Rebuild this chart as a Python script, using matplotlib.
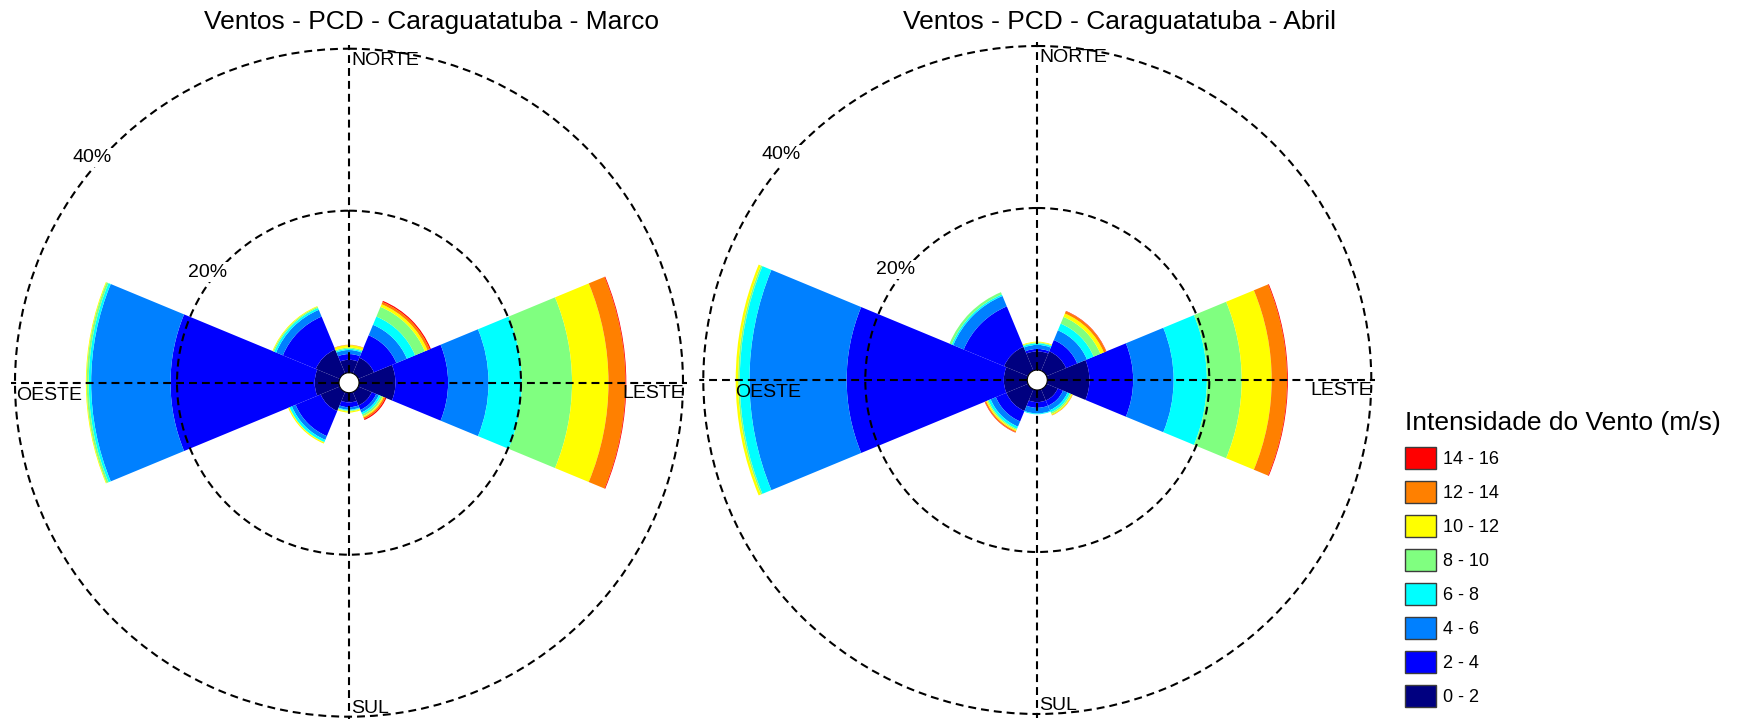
import numpy as np
import matplotlib.pyplot as plt
import matplotlib.patches as mpatches

plt.rcParams['font.family'] = ['Liberation Sans', 'DejaVu Sans']

## directions (compass degrees) and speed classes
dir_angles = [0, 45, 90, 135, 180, 225, 270, 315]  # N, NE, E, SE, S, SW, W, NW
speed_labels = ['0 - 2', '2 - 4', '4 - 6', '6 - 8', '8 - 10', '10 - 12', '12 - 14', '14 - 16']
speed_colors = ['#000080', '#0000FF', '#0080FF', '#00FFFF', '#80FF80', '#FFFF00', '#FF8000', '#FF0000']

## frequency (%) per direction, one list per speed class - Marco
marco_0_2 = [1.6, 2.1, 4.5, 1.8, 1.2, 2.55, 3.0, 3.2]
marco_2_4 = [0.7, 3.0, 6.5, 0.6, 0.6, 3.35, 17.8, 4.4]
marco_4_6 = [0.5, 1.4, 5.0, 0.35, 0.3, 0.5, 9.8, 0.9]
marco_6_8 = [0.15, 1.1, 4.1, 0.25, 0.1, 0.3, 0.3, 0.25]
marco_8_10 = [0.15, 1.3, 6.2, 0.25, 0.1, 0.05, 0.25, 0.15]
marco_10_12 = [0.3, 0.35, 4.5, 0.15, 0.15, 0.15, 0.1, 0.1]
marco_12_14 = [0.05, 0.3, 2.1, 0.2, 0.0, 0.0, 0.0, 0.0]
marco_14_16 = [0.0, 0.15, 0.1, 0.15, 0.0, 0.0, 0.0, 0.0]

## Abril
abril_0_2 = [2.3, 2.6, 5.2, 1.5, 1.5, 2.9, 2.9, 3.2]
abril_2_4 = [0.3, 1.5, 5.4, 0.7, 0.7, 1.4, 19.4, 5.4]
abril_4_6 = [0.5, 1.3, 5.0, 0.6, 0.7, 0.7, 12.0, 1.4]
abril_6_8 = [0.2, 0.9, 4.1, 0.3, 0.1, 0.3, 1.2, 0.2]
abril_8_10 = [0.1, 0.9, 4.3, 0.2, 0.0, 0.15, 0.2, 0.3]
abril_10_12 = [0.1, 0.45, 3.7, 0.15, 0.0, 0.15, 0.3, 0.0]
abril_12_14 = [0.0, 0.3, 1.9, 0.05, 0.0, 0.15, 0.0, 0.0]
abril_14_16 = [0.0, 0.05, 0.1, 0.0, 0.0, 0.05, 0.0, 0.0]

marco = [marco_0_2, marco_2_4, marco_4_6, marco_6_8, marco_8_10, marco_10_12, marco_12_14, marco_14_16]
abril = [abril_0_2, abril_2_4, abril_4_6, abril_6_8, abril_8_10, abril_10_12, abril_12_14, abril_14_16]

W, H = 1739, 719
K = 8.1      # px per percent
HOLE = 10    # px, white hole in the centre
RMAX = 40.5
R_AX = HOLE + K * RMAX

fig = plt.figure(figsize=(W / 100, H / 100), dpi=100)


def draw_rose(cx, cy, freqs, title, oeste_dx):
    rect = [(cx - R_AX) / W, (H - cy - R_AX) / H, 2 * R_AX / W, 2 * R_AX / H]
    ax = fig.add_axes(rect, projection='polar')
    ax.set_theta_zero_location('N')
    ax.set_theta_direction(-1)
    theta = np.radians(dir_angles)
    bottom = np.zeros(len(theta))
    for vals, c in zip(freqs, speed_colors):
        ax.bar(theta, vals, width=np.radians(45), bottom=bottom, color=c,
               edgecolor='none', linewidth=0)
        bottom = bottom + np.array(vals)
    ax.set_rorigin(-HOLE / K)
    ax.set_ylim(0, RMAX)
    ax.set_thetagrids([0, 90, 180, 270], labels=['', '', '', ''])
    ax.set_rgrids([20, 40], labels=['', ''])
    ax.grid(True, color='k', linestyle=(0, (3.8, 2.4)), linewidth=1.5)
    ax.set_axisbelow(False)
    ax.patch.set_alpha(0)
    for s in ax.spines.values():
        s.set_visible(False)

    # circle labels
    ax.text(np.radians(308), 20.9, '20%', ha='center', va='center', fontsize=14,
            bbox=dict(fc='white', ec='none', pad=1), zorder=5)
    ax.text(np.radians(311.3), 40.9, '40%', ha='center', va='center', fontsize=14,
            bbox=dict(fc='white', ec='none', pad=1), zorder=5)

    # cardinal labels
    s = 1.0 / (2 * R_AX)
    ax.text(0.5 + 2 * s, 0.5 + 331 * s, 'NORTE', transform=ax.transAxes,
            ha='left', va='top', fontsize=14)
    ax.text(0.5 + 2 * s, 0.5 - 330 * s, 'SUL', transform=ax.transAxes,
            ha='left', va='baseline', fontsize=14)
    ax.text(0.5 - oeste_dx * s, 0.5 - 4 * s, 'OESTE', transform=ax.transAxes,
            ha='left', va='top', fontsize=14)
    ax.text(0.5 + 335 * s, 0.5 - 2 * s, 'LESTE', transform=ax.transAxes,
            ha='right', va='top', fontsize=14)

    fig.text((cx + 82) / W, 1 - 29 / H, title, ha='center', va='baseline', fontsize=19)
    return ax


draw_rose(349, 382.7, marco, 'Ventos - PCD - Caraguatatuba - Marco', 333)
draw_rose(1037.3, 380, abril, 'Ventos - PCD - Caraguatatuba - Abril', 302)

## legend, highest class on top
handles = [mpatches.Patch(facecolor=c, edgecolor='#3c3c3c', linewidth=1.0, label=l)
           for c, l in zip(speed_colors[::-1], speed_labels[::-1])]
fig.legend(handles=handles, loc='upper left', bbox_to_anchor=(1405 / W, 1 - 411 / H),
           frameon=False, fontsize=13, title='Intensidade do Vento (m/s)', title_fontsize=19,
           alignment='left', handlelength=1.72, handleheight=1.5, labelspacing=0.66,
           handletextpad=0.39, borderpad=0, borderaxespad=0)

fig.savefig('out.png', dpi=100)
